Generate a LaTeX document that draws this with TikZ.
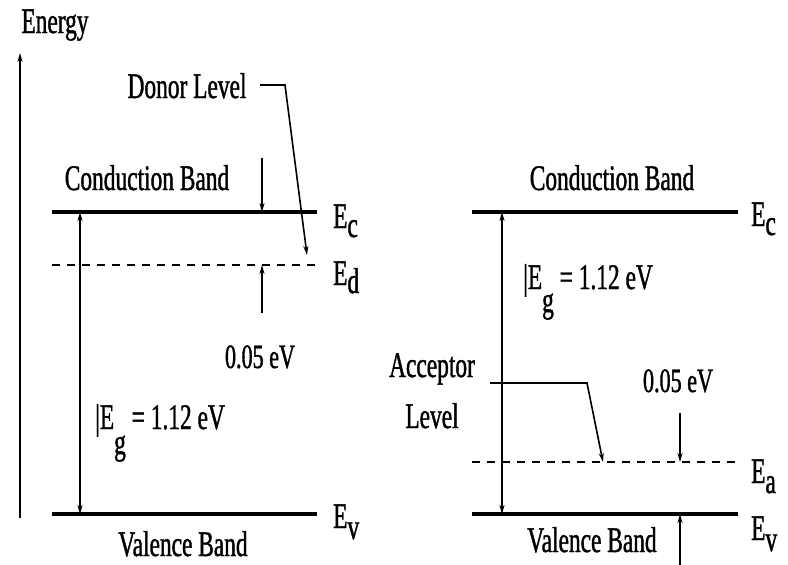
\documentclass[tikz,border=0pt]{standalone}
\usepackage{fontspec}
\setmainfont{Liberation Serif}[FakeStretch=0.65,FakeBold=1.1,AutoFakeBold=1.1]
\usetikzlibrary{arrows.meta}
\begin{document}
\begin{tikzpicture}[x=1pt,y=-1pt,
  band/.style={line width=3.8pt},
  lvl/.style={line width=2.2pt, dash pattern=on 8pt off 7pt},
  tip/.style={-{Stealth[length=9pt,width=5pt]}},
  arr/.style={line width=1.6pt,tip},
  dbl/.style={line width=1.7pt,{Stealth[length=9pt,width=5pt]}-{Stealth[length=9pt,width=5pt]}},
  lbl/.style={font=\fontsize{36}{40}\selectfont\bfseries, inner sep=0pt, anchor=base},
  lblw/.style={lbl, anchor=base west},
  small/.style={font=\fontsize{34}{38}\selectfont\bfseries, inner sep=0pt, anchor=base}]
\useasboundingbox (0,0) rectangle (788,565);
% ---------- left panel ----------
\coordinate (cL1) at (52,212); \coordinate (cL2) at (317,212);
\coordinate (dL1) at (52,265); \coordinate (dL2) at (317,265);
\coordinate (vL1) at (52,514); \coordinate (vL2) at (317,514);
\coordinate (ax0) at (20,518); \coordinate (ax1) at (20,53);
\coordinate (egLt) at (80,212); \coordinate (egLb) at (80,514);
\coordinate (s1a) at (262,158); \coordinate (s1b) at (262,212);
\coordinate (s2a) at (262,313); \coordinate (s2b) at (262,265);
\coordinate (dn0) at (260,85); \coordinate (dn1) at (285,85); \coordinate (dn2) at (307,255);

\draw[line width=2pt,tip] (ax0) -- (ax1);
\node[lbl] (energy) at (55,33) {Energy};
\draw[band] (cL1) -- (cL2);
\draw[lvl] (dL1) -- (dL2);
\draw[band] (vL1) -- (vL2);
\draw[dbl] (egLt) -- (egLb);
\draw[arr] (s1a) -- (s1b);
\draw[arr] (s2a) -- (s2b);
\draw[line width=1.6pt,tip] (dn0) -- (dn1) -- (dn2);
\node[lbl] (donor) at (187,98) {Donor Level};
\node[lbl] (cbL) at (147,190) {Conduction Band};
\node[lbl] (vbL) at (183,556) {Valence Band};
\node[small] (evL) at (260,368) {0.05 eV};
\node[lblw] (ecL) at (333,228) {E\raisebox{-9pt}{c}};
\node[lblw] (edL) at (333,285) {E\raisebox{-8pt}{d}};
\node[lblw] (evvL) at (333,528) {E\raisebox{-11pt}{v}};
\node[lblw] (egL) at (95,429) {|E\raisebox{-25pt}{g} = 1.12 eV};
% ---------- right panel ----------
\coordinate (cR1) at (472,212); \coordinate (cR2) at (738,212);
\coordinate (aR1) at (472,462); \coordinate (aR2) at (738,462);
\coordinate (vR1) at (472,514); \coordinate (vR2) at (738,514);
\coordinate (egRt) at (502,212); \coordinate (egRb) at (502,514);
\coordinate (t1a) at (680,413); \coordinate (t1b) at (680,462);
\coordinate (t2a) at (680,565); \coordinate (t2b) at (680,514);
\coordinate (ac0) at (490,383); \coordinate (ac1) at (587,383); \coordinate (ac2) at (603,462);

\draw[band] (cR1) -- (cR2);
\draw[lvl] (aR1) -- (aR2);
\draw[band] (vR1) -- (vR2);
\draw[dbl] (egRt) -- (egRb);
\draw[arr] (t1a) -- (t1b);
\draw[arr] (t2a) -- (t2b);
\draw[line width=1.6pt,tip] (ac0) -- (ac1) -- (ac2);
\node[lbl] (cbR) at (612,190) {Conduction Band};
\node[lbl] (vbR) at (592,552) {Valence Band};
\node[lbl] (accA) at (432,377) {Acceptor};
\node[lbl] (accB) at (432,428) {Level};
\node[small] (eaR) at (678,392) {0.05 eV};
\node[lblw] (ecR) at (751,226) {E\raisebox{-9pt}{c}};
\node[lblw] (eaRl) at (751,483) {E\raisebox{-10pt}{a}};
\node[lblw] (evR) at (751,540) {E\raisebox{-11pt}{v}};
\node[lblw] (egR) at (523,289) {|E\raisebox{-23pt}{g} = 1.12 eV};
\end{tikzpicture}
\end{document}
